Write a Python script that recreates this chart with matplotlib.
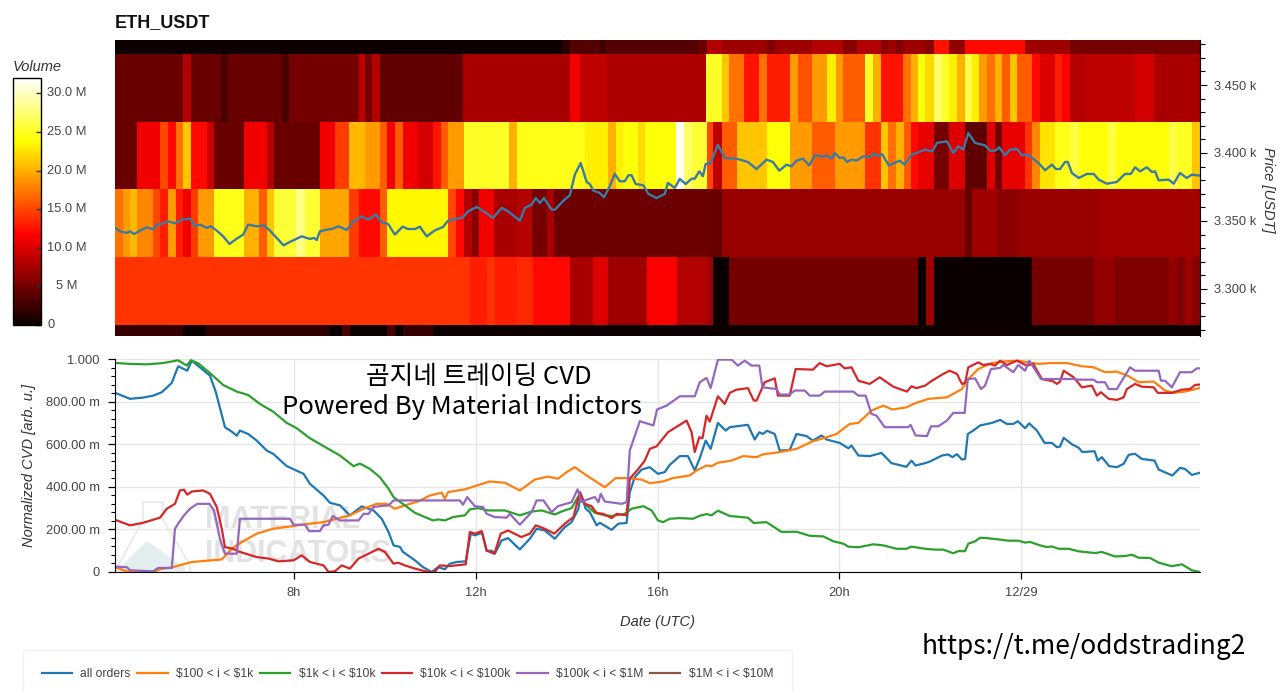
import numpy as np
import matplotlib
matplotlib.use("Agg")
import matplotlib.pyplot as plt
from matplotlib.cm import ScalarMappable
from matplotlib.colors import Normalize
from matplotlib.patches import Polygon
from matplotlib.ticker import FixedLocator, MultipleLocator

plt.rcParams["font.family"] = ["Liberation Sans", "DejaVu Sans"]

W, H = 1280, 691
TICK_GRAY = "#444444"
KOREAN = ["Noto Sans CJK KR", "DejaVu Sans"]

# heatmap rows, bottom to top: (end of stripe in hours, volume in M)
price_edges = [3265.4, 3273.5, 3323.5, 3373.5, 3422.8, 3472.8, 3483.1]
start_hour = 4.06

row_a = [(5.56, 2), (6.06, 0), (8.76, 1.8), (9.05, 0), (9.23, 3), (10.05, 0), (10.22, 3), (10.39, 0),
         (11.06, 2), (27.94, 0.2)]
row_b = [(11.87, 14.2), (12.24, 13), (12.42, 14), (12.90, 13), (13.27, 13.5), (14.07, 12), (14.59, 7.5),
         (14.91, 10), (15.76, 7), (16.42, 11.5), (17.08, 8), (17.22, 7), (17.58, 0), (21.74, 5), (21.91, 0),
         (22.09, 7), (24.25, 0), (25.60, 5.2), (26.07, 6.5), (27.25, 5.5), (27.43, 6.5), (27.60, 5.5),
         (27.76, 7), (27.94, 6)]
row_c = [(4.24, 17), (4.39, 19), (4.55, 20.5), (4.90, 18), (5.05, 15), (5.23, 13), (5.40, 19), (5.56, 13),
         (5.73, 11), (5.89, 14.5), (6.24, 19), (6.90, 24.5), (7.23, 20), (7.40, 16), (7.56, 21), (8.04, 25.5),
         (8.24, 28), (8.57, 25.5), (9.22, 19.5), (9.42, 14.5), (9.89, 12), (10.05, 16), (11.39, 23.5),
         (11.56, 15), (11.74, 12), (11.91, 8), (12.07, 6), (12.40, 11), (12.90, 7.5), (13.23, 8), (13.57, 5),
         (13.73, 7.5), (17.08, 4.7), (17.41, 4.5), (22.76, 6.8), (22.92, 4.5), (23.50, 7), (23.94, 6),
         (25.63, 6.8), (25.78, 7), (27.94, 7.3)]
row_d = [(4.55, 4.5), (5.05, 11), (5.23, 15), (5.40, 12), (5.55, 17), (5.73, 21), (6.08, 12), (6.24, 9),
         (6.90, 4.5), (7.40, 11), (7.56, 8), (8.57, 4.5), (8.90, 11), (9.22, 14.5), (9.56, 20.5), (9.89, 19),
         (10.05, 16), (10.22, 11), (10.39, 16), (10.73, 11), (11.06, 9.5), (11.23, 12.5), (11.39, 16),
         (11.74, 19), (12.74, 25), (12.90, 20), (14.40, 24.5), (14.92, 23), (15.08, 20), (15.25, 23),
         (15.58, 24), (15.72, 22), (16.40, 24), (16.58, 31.5), (16.75, 27), (17.08, 25.5), (17.22, 15),
         (17.41, 8.5), (17.74, 16), (18.40, 21), (18.91, 24), (19.40, 19), (19.90, 16), (20.56, 19),
         (20.91, 14), (21.08, 21), (21.24, 17), (21.42, 20), (21.57, 16), (21.74, 12), (22.09, 10.5),
         (22.42, 5), (22.76, 10), (23.25, 4), (23.42, 10), (23.59, 5), (24.09, 10.5), (24.25, 14), (24.42, 18),
         (24.75, 22.5), (25.08, 24.5), (25.27, 26), (25.91, 24), (26.09, 26), (27.25, 24), (27.43, 26),
         (27.76, 25), (27.94, 21)]
row_e = [(5.56, 4.5), (5.73, 8), (6.39, 4.5), (6.55, 3), (7.73, 4.5), (7.88, 3), (9.42, 5), (9.56, 8.5),
         (9.71, 5), (9.89, 8), (11.72, 4.2), (14.07, 7.5), (14.29, 11), (14.88, 8.5), (17.06, 7.8), (17.41, 25),
         (17.58, 21), (17.91, 17), (18.23, 12.5), (18.40, 17), (18.91, 13), (19.09, 19), (19.40, 15.5),
         (19.74, 19), (19.92, 23), (20.09, 19), (20.56, 16), (20.75, 25), (20.91, 20), (21.41, 12.5),
         (21.57, 17), (21.74, 20), (21.89, 24), (22.09, 22), (22.26, 27), (22.42, 25), (22.59, 23), (22.76, 20),
         (22.92, 26), (23.08, 23), (23.25, 19), (23.42, 17), (23.59, 20), (23.75, 16), (23.92, 21), (24.25, 16),
         (24.42, 12), (24.75, 10), (24.91, 13), (25.08, 11.5), (25.41, 8), (26.51, 8.5), (26.92, 9.5),
         (27.94, 7.5)]
row_f = [(13.89, 0.2), (14.07, 1.5), (14.73, 3.5), (14.87, 2.5), (16.90, 3.5), (17.08, 4.5), (17.41, 8),
         (18.40, 7), (18.58, 5.5), (19.39, 7), (20.09, 8), (20.38, 6), (20.93, 8), (21.08, 6), (21.26, 7),
         (21.41, 5.5), (21.89, 7), (22.09, 6), (22.42, 12.5), (22.76, 6.5), (24.09, 12), (25.08, 7), (27.94, 5)]
heat_rows = [row_a, row_b, row_c, row_d, row_e, row_f]

# price line: (hour, USDT)
price = [(4.06, 3344.9), (4.17, 3342.4), (4.32, 3341.2), (4.39, 3342.4), (4.48, 3340.4), (4.65, 3343.6),
         (4.76, 3345.3), (4.90, 3343.9), (4.98, 3347.3), (5.09, 3347.8), (5.23, 3349.8), (5.38, 3348.3),
         (5.53, 3351.0), (5.71, 3351.7), (5.82, 3346.1), (5.93, 3347.3), (6.08, 3344.9), (6.17, 3346.1),
         (6.30, 3342.9), (6.44, 3338.7), (6.58, 3333.1), (6.74, 3337.0), (6.88, 3340.0), (6.99, 3347.3),
         (7.18, 3346.1), (7.34, 3346.8), (7.47, 3342.9), (7.62, 3337.5), (7.77, 3332.1), (7.91, 3334.6),
         (8.17, 3338.7), (8.35, 3336.8), (8.44, 3337.5), (8.50, 3336.0), (8.57, 3342.4), (8.72, 3343.6),
         (8.83, 3344.1), (8.98, 3346.1), (9.16, 3343.4), (9.31, 3349.8), (9.49, 3353.2), (9.64, 3351.0),
         (9.80, 3354.7), (9.93, 3349.0), (10.07, 3347.8), (10.22, 3340.0), (10.39, 3345.8), (10.51, 3344.1),
         (10.66, 3344.1), (10.77, 3345.8), (10.92, 3338.7), (11.10, 3343.1), (11.28, 3345.6), (11.39, 3350.2),
         (11.72, 3352.7), (11.83, 3357.1), (12.02, 3360.3), (12.20, 3356.6), (12.38, 3352.2), (12.57, 3359.6),
         (12.71, 3357.1), (12.97, 3350.2), (13.08, 3359.6), (13.23, 3362.0), (13.32, 3366.9), (13.41, 3363.2),
         (13.50, 3366.9), (13.67, 3358.3), (13.74, 3358.3), (13.93, 3364.9), (14.07, 3368.9), (14.18, 3384.1),
         (14.31, 3392.6), (14.44, 3378.7), (14.51, 3377.2), (14.59, 3372.3), (14.73, 3370.6), (14.82, 3367.4),
         (14.95, 3375.5), (15.06, 3384.6), (15.17, 3379.2), (15.28, 3379.2), (15.36, 3383.6), (15.43, 3383.6),
         (15.52, 3377.2), (15.69, 3376.2), (15.80, 3369.9), (15.98, 3366.9), (16.16, 3369.9), (16.23, 3378.0),
         (16.38, 3374.3), (16.49, 3380.9), (16.62, 3377.2), (16.75, 3381.1), (16.82, 3381.1), (16.92, 3386.5),
         (17.00, 3382.9), (17.06, 3391.9), (17.17, 3392.6), (17.33, 3406.1), (17.48, 3396.3), (17.74, 3395.8),
         (17.99, 3393.4), (18.18, 3388.2), (18.40, 3395.1), (18.54, 3393.4), (18.68, 3387.0), (18.84, 3391.4),
         (18.95, 3390.2), (19.06, 3394.4), (19.20, 3395.8), (19.34, 3390.9), (19.46, 3398.3), (19.65, 3397.3),
         (19.72, 3398.3), (19.83, 3395.8), (19.90, 3400.0), (20.01, 3396.3), (20.09, 3396.8), (20.17, 3393.4),
         (20.27, 3395.1), (20.38, 3394.4), (20.53, 3397.6), (20.67, 3396.8), (20.76, 3399.5), (20.86, 3397.6),
         (20.94, 3399.3), (21.09, 3390.9), (21.26, 3393.4), (21.33, 3394.4), (21.44, 3391.4), (21.59, 3398.8),
         (21.70, 3400.0), (21.89, 3402.5), (22.05, 3401.2), (22.15, 3407.4), (22.37, 3408.6), (22.51, 3400.0),
         (22.62, 3404.9), (22.73, 3402.5), (22.84, 3414.7), (22.99, 3407.4), (23.21, 3405.6), (23.32, 3401.7),
         (23.43, 3401.7), (23.52, 3404.2), (23.65, 3398.3), (23.76, 3402.5), (23.91, 3403.0), (24.02, 3398.3),
         (24.16, 3398.8), (24.42, 3391.4), (24.53, 3387.3), (24.68, 3391.4), (24.77, 3388.2), (24.86, 3388.2),
         (24.97, 3393.4), (25.03, 3393.4), (25.12, 3385.3), (25.27, 3381.6), (25.45, 3384.6), (25.60, 3384.6),
         (25.71, 3380.4), (25.89, 3377.4), (26.11, 3378.7), (26.29, 3384.6), (26.42, 3384.6), (26.51, 3389.5),
         (26.62, 3386.5), (26.77, 3389.5), (26.88, 3386.0), (26.95, 3386.5), (27.03, 3379.9), (27.25, 3380.4),
         (27.36, 3377.4), (27.50, 3385.3), (27.65, 3381.6), (27.76, 3384.1), (27.94, 3383.3)]

# normalized CVD: (hour, value)
all_orders = [(4.06, .84), (4.10, .838), (4.39, .813), (4.68, .819), (4.90, .828), (5.09, .844), (5.31, .888),
              (5.45, .966), (5.65, .945), (5.75, .992), (6.15, .922), (6.28, .844), (6.48, .68), (6.63, .659),
              (6.74, .64), (6.81, .664), (6.99, .648), (7.18, .617), (7.40, .57), (7.54, .555), (7.84, .497),
              (8.21, .461), (8.35, .414), (8.65, .359), (8.79, .325), (9.01, .313), (9.23, .266), (9.49, .308),
              (9.75, .289), (9.93, .25), (10.08, .188), (10.19, .125), (10.33, .118), (10.40, .094), (10.66, .055),
              (10.84, .023), (11.03, 0), (11.17, .023), (11.32, .013), (11.43, .039), (11.58, .047), (11.78, .05),
              (11.89, .18), (11.98, .172), (12.14, .184), (12.24, .10), (12.35, .10), (12.42, .086), (12.57, .148),
              (12.71, .159), (12.97, .106), (13.19, .156), (13.34, .203), (13.52, .195), (13.74, .156),
              (13.96, .211), (14.11, .234), (14.26, .297), (14.31, .367), (14.42, .297), (14.51, .281),
              (14.66, .219), (14.73, .231), (14.99, .198), (15.14, .227), (15.32, .23), (15.39, .375),
              (15.50, .445), (15.65, .481), (15.83, .492), (16.01, .461), (16.16, .469), (16.27, .503),
              (16.49, .544), (16.67, .544), (16.82, .477), (16.93, .534), (17.06, .617), (17.17, .578),
              (17.33, .70), (17.50, .664), (17.59, .68), (17.99, .691), (18.14, .622), (18.24, .656), (18.32, .648),
              (18.41, .663), (18.58, .648), (18.69, .57), (18.91, .573), (19.06, .648), (19.28, .638), (19.42, .617),
              (19.61, .641), (19.72, .622), (20.01, .606), (20.20, .581), (20.27, .594), (20.42, .547),
              (20.67, .544), (20.93, .559), (21.15, .511), (21.48, .494), (21.59, .523), (21.68, .50), (21.89, .511),
              (22.00, .519), (22.26, .547), (22.40, .552), (22.49, .539), (22.59, .553), (22.70, .528), (22.77, .531),
              (22.83, .648), (22.95, .664), (23.10, .688), (23.36, .70), (23.54, .714), (23.69, .695), (23.83, .695),
              (23.93, .708), (24.09, .675), (24.18, .698), (24.35, .664), (24.52, .606), (24.68, .606), (24.79, .586),
              (24.86, .589), (24.94, .63), (25.12, .60), (25.27, .583), (25.35, .563), (25.62, .567), (25.69, .523),
              (25.78, .539), (25.94, .497), (26.11, .492), (26.26, .508), (26.37, .55), (26.51, .555), (26.66, .531),
              (26.94, .523), (27.03, .481), (27.33, .453), (27.50, .489), (27.61, .484), (27.76, .456), (27.94, .466)]
tier_100_1k = [(4.06, .025), (4.10, .019), (4.32, .003), (4.90, 0), (5.05, .013), (5.34, .023), (5.75, .047),
               (6.41, .059), (6.63, .109), (6.85, .141), (7.18, .18), (7.54, .203), (7.99, .216), (8.35, .227),
               (8.65, .234), (8.94, .25), (9.23, .266), (9.53, .297), (9.82, .32), (10.04, .32), (10.22, .297),
               (10.44, .313), (10.73, .331), (10.99, .359), (11.25, .372), (11.32, .344), (11.39, .375),
               (11.76, .388), (11.98, .403), (12.31, .425), (12.64, .419), (12.97, .383), (13.30, .434),
               (13.59, .448), (13.81, .438), (14.00, .469), (14.18, .492), (14.44, .453), (14.84, .398),
               (15.08, .441), (15.32, .441), (15.65, .434), (15.83, .417), (16.12, .425), (16.34, .441),
               (16.71, .453), (16.86, .477), (17.08, .50), (17.19, .497), (17.33, .513), (17.63, .523), (17.88, .544),
               (18.18, .539), (18.32, .552), (18.69, .563), (19.06, .578), (19.42, .614), (19.65, .628), (19.94, .648),
               (20.23, .695), (20.42, .70), (20.71, .758), (20.97, .781), (21.17, .763), (21.48, .773), (21.63, .789),
               (21.96, .813), (22.37, .82), (22.70, .859), (22.84, .906), (23.06, .953), (23.36, .981), (23.65, .989),
               (23.94, .992), (24.38, .977), (24.68, .981), (25.01, .981), (25.34, .966), (25.60, .961), (25.85, .938),
               (26.11, .941), (26.37, .919), (26.59, .891), (26.92, .894), (27.17, .852), (27.36, .841), (27.61, .847),
               (27.94, .864)]
tier_1k_10k = [(4.06, .982), (4.10, .981), (4.39, .977), (4.76, .975), (5.12, .981), (5.45, .994), (5.64, .969),
               (5.73, .994), (5.89, .98), (6.15, .934), (6.44, .878), (6.74, .847), (6.99, .831), (7.25, .789),
               (7.54, .753), (7.84, .70), (8.06, .675), (8.35, .628), (8.65, .591), (9.01, .547), (9.31, .497),
               (9.45, .509), (9.67, .484), (9.89, .445), (10.08, .391), (10.19, .352), (10.33, .33), (10.44, .313),
               (10.66, .278), (10.88, .258), (11.06, .242), (11.17, .247), (11.32, .242), (11.50, .258), (11.76, .266),
               (11.87, .294), (12.05, .30), (12.27, .289), (12.64, .289), (12.97, .266), (13.23, .284), (13.45, .289),
               (13.74, .27), (13.89, .284), (14.11, .30), (14.29, .367), (14.40, .32), (14.62, .278), (14.84, .266),
               (14.99, .263), (15.28, .273), (15.43, .297), (15.69, .309), (15.87, .289), (16.01, .242), (16.12, .234),
               (16.27, .25), (16.49, .253), (16.78, .25), (16.93, .264), (17.08, .272), (17.19, .266), (17.33, .288),
               (17.59, .263), (17.99, .255), (18.12, .23), (18.40, .234), (18.73, .188), (19.06, .189), (19.35, .17),
               (19.65, .167), (19.87, .144), (20.09, .133), (20.20, .119), (20.42, .116), (20.75, .13), (20.97, .125),
               (21.26, .109), (21.48, .109), (21.59, .119), (21.89, .109), (22.11, .105), (22.29, .105), (22.51, .088),
               (22.62, .098), (22.77, .098), (22.84, .133), (22.99, .144), (23.10, .161), (23.25, .159), (23.50, .153),
               (23.72, .147), (23.94, .147), (24.09, .138), (24.20, .141), (24.42, .125), (24.57, .117), (24.68, .12),
               (24.83, .109), (25.05, .109), (25.27, .097), (25.63, .089), (25.78, .094), (26.07, .073), (26.29, .075),
               (26.44, .081), (26.59, .067), (26.84, .066), (27.03, .044), (27.32, .027), (27.54, .036), (27.76, .008),
               (27.94, 0)]
tier_10k_100k = [(4.06, .245), (4.10, .242), (4.39, .219), (4.68, .231), (5.05, .255), (5.20, .297), (5.38, .32),
                 (5.49, .383), (5.58, .386), (5.65, .363), (5.75, .378), (6.00, .383), (6.15, .367), (6.30, .305),
                 (6.41, .203), (6.48, .117), (6.66, .109), (6.77, .097), (7.18, .07), (7.44, .063), (7.66, .05),
                 (7.99, .055), (8.17, .078), (8.35, .047), (8.65, .031), (8.76, 0), (8.90, .003), (9.05, .031),
                 (9.23, .016), (9.42, .063), (9.64, .086), (9.86, .109), (10.00, .094), (10.19, .039), (10.29, .044),
                 (10.44, .031), (10.66, .016), (10.81, .008), (10.95, 0), (11.10, 0), (11.21, .031), (11.43, .028),
                 (11.78, .036), (11.87, .188), (11.98, .18), (12.13, .192), (12.24, .10), (12.41, .086), (12.55, .18),
                 (12.71, .195), (13.00, .164), (13.19, .18), (13.32, .219), (13.52, .203), (13.73, .18), (13.96, .227),
                 (14.15, .258), (14.29, .375), (14.40, .32), (14.55, .309), (14.66, .277), (14.81, .273), (14.99, .253),
                 (15.10, .273), (15.32, .266), (15.39, .438), (15.58, .484), (15.72, .523), (15.83, .578), (15.98, .59),
                 (16.23, .656), (16.64, .711), (16.75, .656), (16.82, .563), (16.92, .633), (16.99, .628), (17.08, .734),
                 (17.15, .706), (17.33, .825), (17.48, .789), (17.59, .841), (17.74, .856), (17.99, .863), (18.12, .805),
                 (18.18, .805), (18.36, .891), (18.58, .909), (18.65, .828), (18.91, .828), (19.04, .953), (19.42, .95),
                 (19.57, .981), (19.72, .966), (20.01, .977), (20.12, .956), (20.27, .961), (20.42, .898), (20.67, .883),
                 (20.89, .914), (21.19, .87), (21.49, .847), (21.59, .872), (21.70, .863), (21.89, .875), (22.04, .898),
                 (22.29, .93), (22.43, .945), (22.59, .93), (22.70, .883), (22.77, .888), (22.84, .961), (23.06, .984),
                 (23.17, .972), (23.32, .977), (23.43, .969), (23.54, .992), (23.69, .972), (23.91, .992), (24.13, .969),
                 (24.27, .977), (24.46, .906), (24.71, .895), (24.79, .883), (24.86, .894), (24.94, .945), (25.16, .914),
                 (25.34, .867), (25.56, .875), (25.67, .828), (25.76, .844), (25.93, .813), (26.11, .808), (26.26, .82),
                 (26.33, .859), (26.51, .883), (26.66, .87), (26.92, .867), (27.01, .841), (27.32, .841), (27.54, .856),
                 (27.72, .859), (27.83, .878), (27.94, .88)]
tier_100k_1m = [(4.06, .025), (4.32, .023), (4.39, .008), (4.90, .003), (5.01, .019), (5.31, .019), (5.38, .203),
                (5.45, .227), (5.58, .266), (5.71, .297), (5.87, .32), (6.14, .32), (6.24, .289), (6.37, .156),
                (6.48, .086), (6.74, .086), (6.81, .25), (7.91, .25), (7.99, .222), (8.24, .222), (8.33, .192),
                (8.57, .192), (8.65, .219), (8.76, .222), (8.85, .263), (9.01, .242), (9.42, .242), (9.53, .273),
                (9.64, .273), (9.75, .305), (9.89, .309), (10.08, .313), (10.19, .336), (11.65, .336), (11.72, .316),
                (11.81, .352), (11.98, .309), (12.16, .305), (12.24, .273), (12.42, .258), (12.68, .255), (12.75, .273),
                (12.97, .222), (13.23, .281), (13.34, .336), (13.49, .336), (13.67, .281), (13.81, .309), (14.11, .328),
                (14.24, .388), (14.33, .328), (14.40, .336), (14.62, .352), (14.70, .328), (14.75, .367), (14.84, .331),
                (15.21, .32), (15.32, .328), (15.39, .57), (15.61, .708), (15.91, .688), (15.99, .763), (16.20, .781),
                (16.49, .825), (16.82, .825), (16.93, .891), (17.08, .911), (17.17, .864), (17.33, .997), (17.63, .997),
                (17.77, .969), (17.92, .992), (18.07, .969), (18.24, .969), (18.31, .867), (18.62, .859), (18.69, .833),
                (18.91, .833), (19.02, .852), (19.24, .852), (19.35, .828), (19.57, .828), (19.68, .847), (20.31, .847),
                (20.42, .828), (20.58, .828), (20.71, .742), (20.82, .734), (21.00, .68), (21.52, .68), (21.57, .691),
                (21.68, .641), (21.93, .638), (22.02, .684), (22.18, .684), (22.37, .711), (22.51, .747), (22.76, .747),
                (22.83, .906), (22.99, .909), (23.12, .859), (23.21, .875), (23.34, .953), (23.54, .958), (23.61, .972),
                (23.83, .938), (23.94, .972), (24.09, .945), (24.18, .992), (24.30, .953), (24.44, .906), (25.15, .906),
                (25.27, .903), (25.60, .903), (25.67, .891), (25.85, .891), (25.93, .859), (26.11, .859), (26.40, .961),
                (26.51, .945), (27.03, .945), (27.08, .898), (27.17, .898), (27.32, .867), (27.50, .938), (27.76, .938),
                (27.87, .956), (27.94, .956)]

series_labels = ["all orders", r"\$100 < i < \$1k", r"\$1k < i < \$10k", r"\$10k < i < \$100k",
                 r"\$100k < i < \$1M", r"\$1M < i < \$10M"]
series_colors = ["#1f77b4", "#ff7f0e", "#2ca02c", "#d62728", "#9467bd", "#8c564b"]
cvd_series = [all_orders, tier_100_1k, tier_1k_10k, tier_10k_100k, tier_100k_1m, []]

cvd_ticks = [0, 0.2, 0.4, 0.6, 0.8, 1.0]
cvd_tick_labels = ["0", "200.00 m", "400.00 m", "600.00 m", "800.00 m", "1.000"]
hour_ticks = [8, 12, 16, 20, 24]
hour_tick_labels = ["8h", "12h", "16h", "20h", "12/29"]
price_ticks = [3300, 3350, 3400, 3450]
price_tick_labels = ["3.300 k", "3.350 k", "3.400 k", "3.450 k"]
volume_ticks = [0, 5, 10, 15, 20, 25, 30]
volume_tick_labels = ["0", "5 M", "10.0 M", "15.0 M", "20.0 M", "25.0 M", "30.0 M"]


def px_rect(left, top, right, bottom):
    # pixel box (y down) to figure fractions
    return [left / W, 1 - bottom / H, (right - left) / W, (bottom - top) / H]


fig = plt.figure(figsize=(W / 100, H / 100), dpi=100, facecolor="white")

# heatmap + price
norm = Normalize(0, 32)
ax_heat = fig.add_axes(px_rect(115, 40, 1200, 336))
for i, row in enumerate(heat_rows):
    edges = [start_hour] + [p[0] for p in row]
    vols = [[p[1] for p in row]]
    ax_heat.pcolormesh(edges, price_edges[i:i + 2], vols, cmap="hot", norm=norm, linewidth=0, rasterized=True)
price_arr = np.array(price).T
ax_heat.plot(price_arr[0], price_arr[1], color="#3a7ba5", lw=1.7)
ax_heat.set_xlim(4.06, 27.94)
ax_heat.set_ylim(price_edges[0], price_edges[-1])
ax_heat.set_xticks([])
ax_heat.yaxis.tick_right()
ax_heat.yaxis.set_major_locator(FixedLocator(price_ticks))
ax_heat.yaxis.set_minor_locator(MultipleLocator(10))
ax_heat.set_yticklabels(price_tick_labels, fontsize=9.3, color=TICK_GRAY)
ax_heat.tick_params(axis="y", which="major", length=5, width=0.8, pad=5)
ax_heat.tick_params(axis="y", which="minor", length=3.5, width=0.8)
for side in ["top", "bottom", "left"]:
    ax_heat.spines[side].set_visible(False)
ax_heat.spines["right"].set_linewidth(0.8)

# colorbar
cax = fig.add_axes(px_rect(12.5, 78, 41, 325))
cbar = fig.colorbar(ScalarMappable(norm=norm, cmap="hot"), cax=cax)
cbar.set_ticks(volume_ticks)
cbar.set_ticklabels([""] * len(volume_ticks))
cax.tick_params(axis="y", direction="in", length=3.5, width=1, color="#333333", right=True, left=False)
cbar.outline.set_linewidth(1)
cbar.outline.set_edgecolor("black")
for tick, lab in zip(volume_ticks, volume_tick_labels):
    offset = -16 if lab == "0" else -7 if False else 0
    cax.annotate(lab, xy=(1, tick), xycoords=cax.get_yaxis_transform(), xytext=(18.5 + offset * 0.72, 0),
                 textcoords="offset points", ha="center", va="center", fontsize=9.3, color=TICK_GRAY)
fig.text(13 / W, 1 - 67 / H, "Volume", fontsize=10.5, style="italic", color="#333333", va="center")

# CVD panel
ax_cvd = fig.add_axes(px_rect(115, 359, 1200, 572), facecolor="none")
for data, label, color in zip(cvd_series, series_labels, series_colors):
    if data:
        arr = np.array(data).T
        ax_cvd.plot(arr[0], arr[1], color=color, lw=1.6, label=label)
    else:
        ax_cvd.plot([], [], color=color, lw=1.6, label=label)
ax_cvd.set_xlim(4.06, 27.94)
ax_cvd.set_ylim(0, 1)
ax_cvd.set_xticks(hour_ticks)
ax_cvd.set_xticklabels(hour_tick_labels, fontsize=9.3, color=TICK_GRAY)
ax_cvd.set_yticks(cvd_ticks)
ax_cvd.set_yticklabels(cvd_tick_labels, fontsize=9.3, color=TICK_GRAY)
ax_cvd.yaxis.set_minor_locator(MultipleLocator(0.04))
ax_cvd.tick_params(axis="both", which="major", length=5, width=0.9, pad=6)
ax_cvd.tick_params(axis="y", which="minor", length=3, width=0.8)
ax_cvd.grid(True, color="#e6e6e6", lw=1)
ax_cvd.set_axisbelow(True)
ax_cvd.spines["top"].set_visible(False)
ax_cvd.spines["right"].set_visible(False)
ax_cvd.set_xlabel("Date (UTC)", fontsize=10.5, style="italic", color="#333333", labelpad=11)
ax_cvd.set_ylabel("Normalized CVD [arb. u.]", fontsize=10.5, style="italic", color="#333333", labelpad=7)

fig.text(1268 / W, 1 - 190 / H, "Price [USDT]", rotation=270, fontsize=10.5, style="italic", color="#333333",
         ha="center", va="center")
fig.text(115 / W, 1 - 23 / H, "ETH_USDT", fontsize=13, fontweight="bold", color="#111111", va="center")

# overlaid captions
fig.text(479 / W, 1 - 377 / H, "곰지네 트레이딩 CVD", family=KOREAN, fontsize=18.5, color="black",
         ha="center", va="center")
fig.text(462 / W, 1 - 407 / H, "Powered By Material Indictors", family=KOREAN, fontsize=18.5, color="black",
         ha="center", va="center")
fig.text(1084 / W, 1 - 646 / H, "https://t.me/oddstrading2", family=KOREAN, fontsize=19, color="black",
         ha="center", va="center")

# faint logo behind the lines
flask = [(143 / W, 1 - 502 / H), (163 / W, 1 - 502 / H), (163 / W, 1 - 520 / H), (190 / W, 1 - 565 / H),
         (190 / W, 1 - 572 / H), (115 / W, 1 - 572 / H), (143 / W, 1 - 520 / H)]
fig.add_artist(Polygon(flask, closed=True, fill=False, edgecolor="#e8e8e8", lw=1.2,
                       transform=fig.transFigure, zorder=-2))
hill = [(117 / W, 1 - 570 / H), (147 / W, 1 - 541 / H), (185 / W, 1 - 568 / H), (185 / W, 1 - 571 / H)]
fig.add_artist(Polygon(hill, closed=True, facecolor="#e3eeee", edgecolor="none",
                       transform=fig.transFigure, zorder=-2))
fig.text(205 / W, 1 - 520 / H, "MATERIAL", fontsize=22, fontweight="bold", color="#e2e2e2", va="center", zorder=-1)
fig.text(205 / W, 1 - 554 / H, "INDICATORS", fontsize=22, fontweight="bold", color="#e2e2e2", va="center", zorder=-1)

# legend, the frame runs off the bottom edge of the picture
leg = fig.legend(*ax_cvd.get_legend_handles_labels(), loc="lower left", bbox_to_anchor=(23 / W, -8 / H),
                 ncol=6, frameon=True, fancybox=False, fontsize=8.7, labelcolor=TICK_GRAY, edgecolor="#eeeeee",
                 borderpad=1.55, handlelength=2.5, handletextpad=0.7, columnspacing=0.55, borderaxespad=0)
leg.get_frame().set_linewidth(1)

fig.savefig("out.png", dpi=100)
